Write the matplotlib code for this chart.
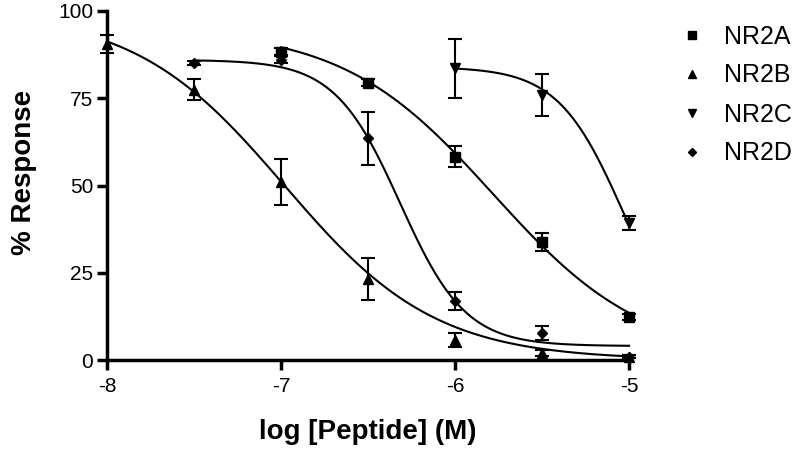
import numpy as np
import matplotlib
matplotlib.use("Agg")
import matplotlib.pyplot as plt

plt.rcParams['font.family'] = ['Liberation Sans', 'DejaVu Sans']

# ---- data ----
series_names = ["NR2A", "NR2B", "NR2C", "NR2D"]

x_A = [-7.0, -6.5, -6.0, -5.5, -5.0]
y_A = [88.3, 79.4, 58.2, 33.8, 12.3]
e_A = [1.0, 1.0, 3.0, 2.6, 0.8]

x_B = [-8.0, -7.5, -7.0, -6.5, -6.0, -5.5, -5.0]
y_B = [90.5, 77.4, 51.0, 23.2, 5.7, 2.0, 1.0]
e_B = [2.5, 3.0, 6.5, 6.0, 2.0, 0.8, 0.5]

x_C = [-6.0, -5.5, -5.0]
y_C = [83.6, 75.9, 39.2]
e_C = [8.5, 6.0, 2.0]

x_D = [-7.5, -7.0, -6.5, -6.0, -5.5, -5.0]
y_D = [85.1, 86.0, 63.6, 16.9, 7.6, 1.0]
e_D = [0.5, 1.0, 7.6, 2.5, 2.0, 0.5]

# fitted sigmoid parameters: bottom, top, logIC50, hill
fit_A = [0.0, 95.0, -5.78, 1.0]
fit_B = [0.0, 100.0, -6.98, 1.0]
fit_C = [0.0, 84.0, -5.03, 2.3]
fit_D = [4.0, 86.0, -6.316, 2.31]

xticks = [-8, -7, -6, -5]
yticks = [0, 25, 50, 75, 100]


def sigmoid(x, p):
    bottom, top, ic50, hill = p
    return bottom + (top - bottom) / (1 + 10 ** (hill * (x - ic50)))


fig = plt.figure(figsize=(8.0, 4.51), dpi=100)
ax = fig.add_axes([107 / 800, 1 - 360 / 451, (629 - 107) / 800, (360 - 11) / 451])

series = [
    (x_A, y_A, e_A, fit_A, 's', 7),
    (x_B, y_B, e_B, fit_B, '^', 7),
    (x_C, y_C, e_C, fit_C, 'v', 7),
    (x_D, y_D, e_D, fit_D, 'D', 5),
]

handles = []
for name, (xs, ys, es, fit, mk, ms) in zip(series_names, series):
    xx = np.linspace(min(xs), max(xs), 300)
    ax.plot(xx, sigmoid(xx, fit), color='black', lw=1.5, clip_on=False, zorder=2)
    ax.errorbar(xs, ys, yerr=es, fmt='none', ecolor='black', elinewidth=1.5,
                capsize=5, capthick=1.5, clip_on=False, zorder=3)
    h, = ax.plot(xs, ys, linestyle='none', marker=mk, ms=ms, color='black',
                 clip_on=False, zorder=4, label=name)
    handles.append(h)

ax.set_xlim(-8, -5)
ax.set_ylim(0, 100)
ax.set_xticks(xticks)
ax.set_xticklabels([str(t) for t in xticks])
ax.set_yticks(yticks)
ax.set_yticklabels([str(t) for t in yticks])

for side in ['top', 'right']:
    ax.spines[side].set_visible(False)
for side in ['left', 'bottom']:
    ax.spines[side].set_linewidth(2.5)

ax.tick_params(axis='both', direction='out', length=7, width=2.5, labelsize=15)
ax.tick_params(axis='x', pad=5)
ax.tick_params(axis='y', pad=3)

ax.set_xlabel("log [Peptide] (M)", fontsize=20, fontweight='bold')
ax.set_ylabel("% Response", fontsize=20, fontweight='bold')
ax.xaxis.set_label_coords(0.5, -0.17)
ax.yaxis.set_label_coords(-0.134, 0.536)

leg = fig.legend(handles=handles, labels=series_names, loc='upper left',
                 bbox_to_anchor=(667 / 800, 1 - 12 / 451), frameon=False,
                 fontsize=18, handlelength=1.0, handletextpad=0.8,
                 labelspacing=0.6, borderpad=0.0, markerscale=0.9)

fig.savefig("out.png", dpi=100)
